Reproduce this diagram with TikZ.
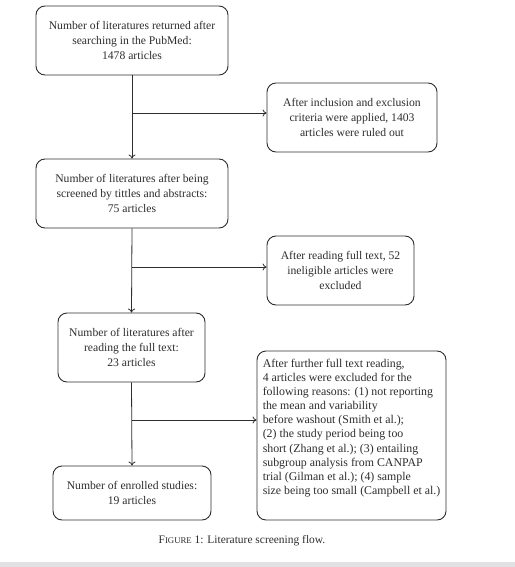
\documentclass[tikz,border=0pt]{standalone}
\usepackage{fontspec}
\setmainfont{Liberation Serif}
\usetikzlibrary{arrows.meta}
\definecolor{ink}{HTML}{2E2E2E}
\definecolor{barg}{HTML}{E2E2E4}
\begin{document}
\begin{tikzpicture}[x=1bp,y=-1bp,
  box/.style={draw=ink,line width=0.9bp,rounded corners=9bp,text=ink,
    font=\fontsize{11.7}{15.5}\selectfont,align=center,inner sep=0pt},
  flow/.style={draw=ink,line width=0.8bp,-{To[length=4bp,width=7bp]}}]
\useasboundingbox (0,0) rectangle (515,567);
\fill[white] (0,0) rectangle (515,567);
\fill[barg] (0,562) rectangle (515,567);
\node[box,minimum width=192bp,minimum height=69bp] (b1) at (132,40.5)
  {Number of literatures returned after\\searching in the PubMed:\\1478 articles};
\node[box,minimum width=192bp,minimum height=69bp] (b2) at (132,193.5)
  {Number of literatures after being\\screened by tittles and abstracts:\\75 articles};
\node[box,minimum width=147bp,minimum height=69bp] (b3) at (131.5,347.5)
  {Number of literatures after\\reading the full text:\\23 articles};
\node[box,minimum width=158bp,minimum height=54bp] (b4) at (132,493)
  {Number of enrolled studies:\\19 articles};
\node[box,minimum width=170bp,minimum height=69bp] (r1) at (352,117.5)
  {After inclusion and exclusion\\criteria were applied, 1403\\articles were ruled out};
\node[box,minimum width=147bp,minimum height=69bp] (r2) at (340.5,270.5)
  {After reading full text, 52\\ineligible articles were\\excluded};
\node[box,minimum width=189bp,minimum height=169bp] (r3) at (351.5,435.5) {};
\node[text=ink,align=left,inner sep=0pt,
  font=\fontsize{11.9}{14.2}\selectfont] (r3t) at (351.5,428)
  {After further full text reading,\\4 articles were excluded for the\\following reasons: (1) not reporting\\the mean and variability\\before washout (Smith et al.);\\(2) the study period being too\\short (Zhang et al.); (3) entailing\\subgroup analysis from CANPAP\\trial (Gilman et al.); (4) sample\\size being too small (Campbell et al.)};
\coordinate (c1) at (132,113);
\coordinate (c2) at (132,267);
\coordinate (c3) at (132,420);
\draw[flow] (b1.south) -- (b2.north);
\draw[flow] (b2.south) -- (b3.north);
\draw[flow] (b3.south) -- (b4.north);
\draw[flow] (c1) -- (c1 -| r1.west);
\draw[flow] (c2) -- (c2 -| r2.west);
\draw[flow] (c3) -- (c3 -| r3.west);
\node[text=ink,font=\fontsize{11.5}{13}\selectfont,inner sep=0pt] (cap) at (242,541)
  {F{\fontsize{8.8}{10}\selectfont IGURE} 1: Literature screening flow.};
\end{tikzpicture}
\end{document}
